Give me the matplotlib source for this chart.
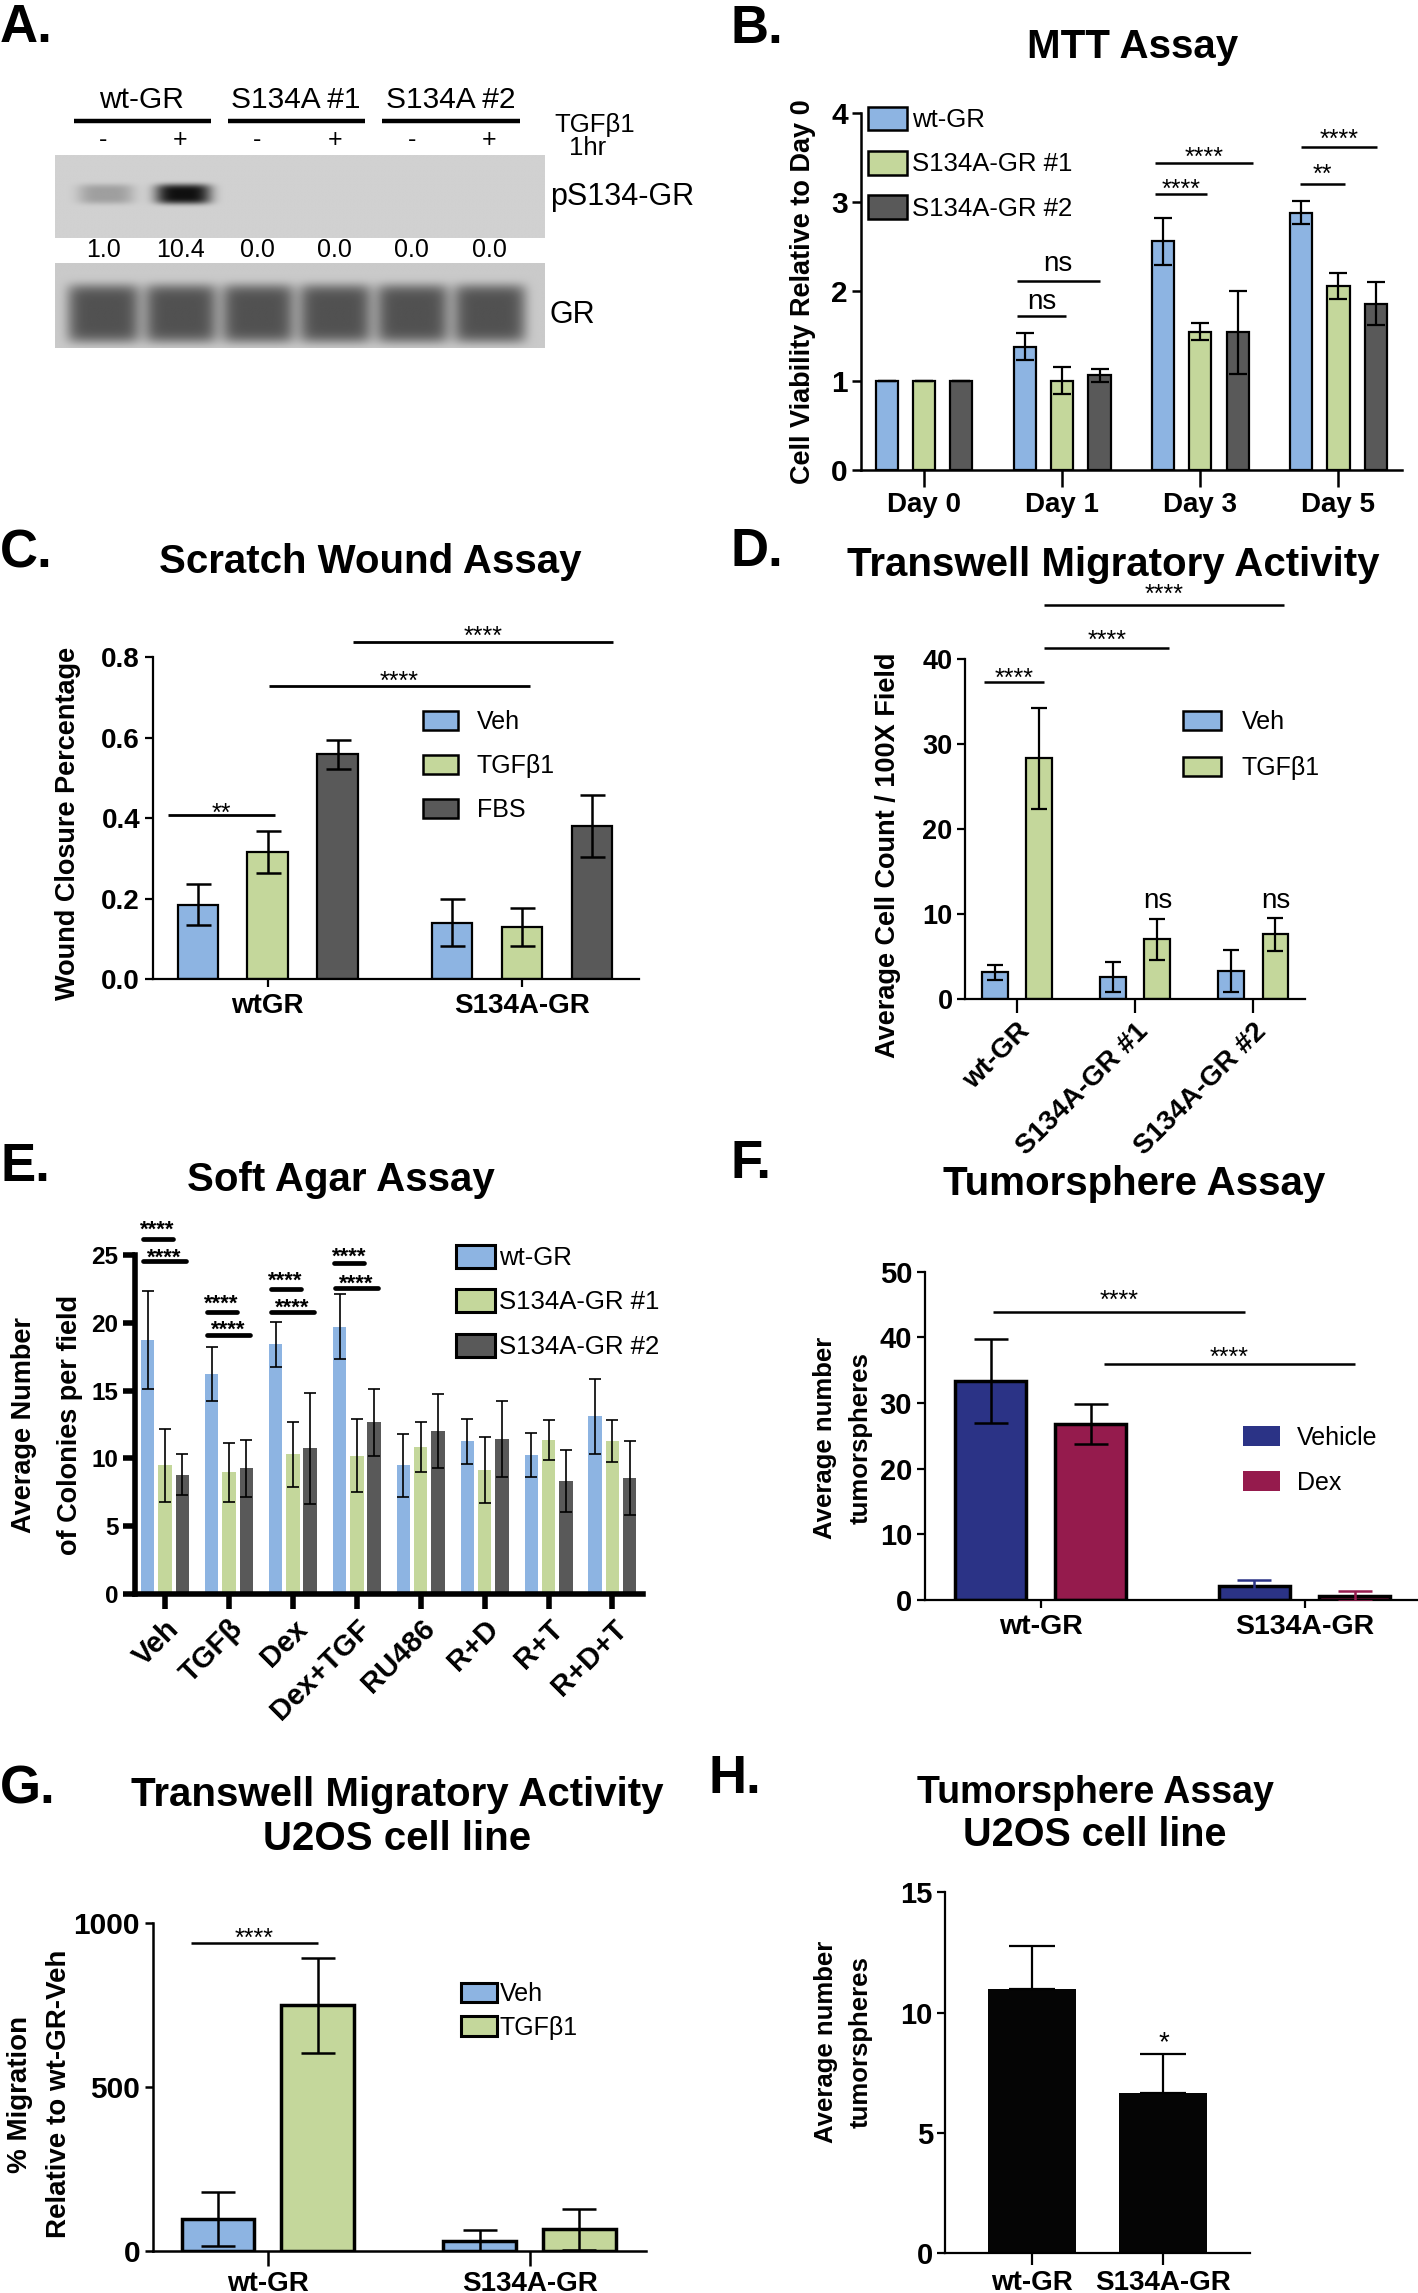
import numpy as np
import matplotlib
matplotlib.use('Agg')
import matplotlib.pyplot as plt
from matplotlib.patches import Patch
from matplotlib.transforms import blended_transform_factory

plt.rcParams['font.family'] = ['Liberation Sans', 'DejaVu Sans']

BLUE = '#8db4e2'
GREEN = '#c4d79b'
GRAY = '#595959'
NAVY = '#2b3386'
CRIMSON = '#951b4d'

# ---------------- data ----------------
# A. western blot
blot_groups = ['wt-GR', 'S134A #1', 'S134A #2']
blot_lanes = ['-', '+', '-', '+', '-', '+']
ps134_levels = [1.0, 10.4, 0.0, 0.0, 0.0, 0.0]
gr_levels = [1.0, 1.0, 1.0, 1.0, 1.0, 1.0]

# B. MTT assay
mtt_days = ['Day 0', 'Day 1', 'Day 3', 'Day 5']
mtt_series = ['wt-GR', 'S134A-GR #1', 'S134A-GR #2']
mtt_wt = [1.0, 1.38, 2.56, 2.88]
mtt_s1 = [1.0, 1.0, 1.55, 2.06]
mtt_s2 = [1.0, 1.06, 1.54, 1.86]
mtt_wt_err = [0, 0.15, 0.26, 0.13]
mtt_s1_err = [0, 0.15, 0.10, 0.15]
mtt_s2_err = [0, 0.07, 0.46, 0.24]

# C. scratch wound
wound_groups = ['wtGR', 'S134A-GR']
wound_series = ['Veh', 'TGFβ1', 'FBS']
wound_veh = [0.185, 0.14]
wound_tgf = [0.315, 0.13]
wound_fbs = [0.558, 0.38]
wound_veh_err = [0.05, 0.058]
wound_tgf_err = [0.052, 0.047]
wound_fbs_err = [0.037, 0.077]

# D. transwell
trans_groups = ['wt-GR', 'S134A-GR #1', 'S134A-GR #2']
trans_series = ['Veh', 'TGFβ1']
trans_veh = [3.1, 2.55, 3.3]
trans_tgf = [28.3, 7.0, 7.6]
trans_veh_err = [0.85, 1.8, 2.5]
trans_tgf_err = [5.9, 2.4, 1.95]

# E. soft agar
agar_groups = ['Veh', 'TGFβ', 'Dex', 'Dex+TGF', 'RU486', 'R+D', 'R+T', 'R+D+T']
agar_series = ['wt-GR', 'S134A-GR #1', 'S134A-GR #2']
agar_wt = [18.75, 16.2, 18.4, 19.7, 9.47, 11.25, 10.25, 13.1]
agar_s1 = [9.47, 8.95, 10.3, 10.2, 10.86, 9.14, 11.36, 11.25]
agar_s2 = [8.78, 9.25, 10.75, 12.65, 12.0, 11.44, 8.34, 8.56]
agar_wt_err = [3.6, 2.0, 1.65, 2.4, 2.35, 1.65, 1.6, 2.75]
agar_s1_err = [2.7, 2.2, 2.4, 2.7, 1.85, 2.45, 1.5, 1.55]
agar_s2_err = [1.5, 2.1, 4.1, 2.45, 2.75, 2.8, 2.3, 2.75]

# F. tumorsphere
sphere_groups = ['wt-GR', 'S134A-GR']
sphere_series = ['Vehicle', 'Dex']
sphere_veh = [33.4, 2.2]
sphere_dex = [26.8, 0.6]
sphere_veh_err = [6.4, 0.85]
sphere_dex_err = [3.05, 0.75]

# G. transwell U2OS
u2mig_groups = ['wt-GR', 'S134A-GR']
u2mig_series = ['Veh', 'TGFβ1']
u2mig_veh = [97, 30]
u2mig_tgf = [750, 65]
u2mig_veh_err = [82, 33]
u2mig_tgf_err = [145, 62]

# H. tumorsphere U2OS
u2sph_groups = ['wt-GR', 'S134A-GR']
u2sph = [10.99, 6.64]
u2sph_err = [1.8, 1.62]

# ---------------- layout helpers ----------------
W, H = 1418, 2293
fig = plt.figure(figsize=(W / 100, H / 100), dpi=100)


def px_axes(l, t, r, b):
    ax = fig.add_axes([l / W, 1 - b / H, (r - l) / W, (b - t) / H])
    ax.patch.set_visible(False)
    return ax


def ptext(x, y, s, **kw):
    return fig.text(x / W, 1 - y / H, s, **kw)


def setup(ax, xlim, ylim, yticks, ylabels, xlabels, lw, fs_y, fs_x, xlen, ylen, rot=0):
    for s in ['top', 'right']:
        ax.spines[s].set_visible(False)
    for s in ['left', 'bottom']:
        ax.spines[s].set_linewidth(lw)
    ax.set_xlim(*xlim)
    ax.set_ylim(*ylim)
    ax.set_yticks(yticks)
    ax.set_yticklabels(ylabels, fontsize=fs_y, fontweight='bold')
    ax.set_xticks(range(len(xlabels)))
    if rot:
        ax.set_xticklabels(xlabels, fontsize=fs_x, fontweight='bold', rotation=rot,
                           ha='right', va='top', rotation_mode='anchor')
    else:
        ax.set_xticklabels(xlabels, fontsize=fs_x, fontweight='bold')
    ax.tick_params(axis='x', length=xlen, width=lw, pad=4)
    ax.tick_params(axis='y', length=ylen, width=lw, pad=3)


def bars(ax, xs, vals, errs, width, color, edge_lw, cap, elw, ecolor='black', upper=False):
    if edge_lw > 0:
        ax.bar(xs, vals, width, color=color, edgecolor='black', linewidth=edge_lw, zorder=2)
    else:
        ax.bar(xs, vals, width, color=color, linewidth=0, zorder=2)
    errs = np.asarray(errs, dtype=float)
    yerr = [np.zeros_like(errs), errs] if upper else errs
    ax.errorbar(xs, vals, yerr=yerr, fmt='none', ecolor=ecolor, elinewidth=elw,
                capsize=cap, capthick=elw, zorder=3)


def bracket(ax, x1, x2, y, ty, label, lw=1.8, fs=18, weight='normal', rise=0.57, cap='butt'):
    ax.plot([x1, x2], [y, y], color='black', lw=lw, clip_on=False, solid_capstyle=cap, zorder=4)
    ax.annotate(label, ((x1 + x2) / 2, ty), xytext=(0, -rise * fs), textcoords='offset points',
                ha='center', va='baseline', fontsize=fs, fontweight=weight, annotation_clip=False)


def legend(ax, labels, colors, anchor, fs, hl, hh, ls, tp, edge_lw=1.8):
    if edge_lw > 0:
        hs = [Patch(facecolor=c, edgecolor='black', linewidth=edge_lw) for c in colors]
    else:
        hs = [Patch(facecolor=c, edgecolor='none') for c in colors]
    ax.legend(hs, labels, loc='upper left', bbox_to_anchor=anchor, frameon=False, fontsize=fs,
              handlelength=hl, handleheight=hh, labelspacing=ls, handletextpad=tp,
              borderpad=0, borderaxespad=0)


def letter(x, y, s):
    ptext(x, y, s, fontsize=38, fontweight='bold', ha='left', va='baseline')


def title(x, y, s, fs=29):
    ptext(x, y, s, fontsize=fs, fontweight='bold', ha='center', va='baseline')


def ylab(x, y, s, fs=19.5):
    ptext(x, y, s, fontsize=fs, fontweight='bold', rotation=90, ha='center', va='center')


# ---------------- A. western blot ----------------
letter(0, 42, 'A.')
xlimA = (-0.626, 5.71)
lane_x = np.arange(len(blot_lanes))
axAt = px_axes(54.7, 155, 543.8, 238)
axAb = px_axes(54.7, 262.7, 543.8, 348.3)
gx = np.linspace(xlimA[0], xlimA[1], 700)
gy = np.linspace(0, 1, 160)
GX, GY = np.meshgrid(gx, gy)
top_img = np.full(GX.shape, 0.82)
for k, lvl in zip(lane_x, ps134_levels):
    amp = 0.8 * (1 - np.exp(-lvl / 3.5))
    top_img -= amp * np.exp(-((GX - k - 0.03) / 0.36) ** 4) * np.exp(-((GY - 0.47) / 0.12) ** 4)
bot_img = np.full(GX.shape, 0.79)
for k, lvl in zip(lane_x, gr_levels):
    bot_img -= 0.47 * lvl * np.exp(-((GX - k) / 0.47) ** 6) * np.exp(-((GY - 0.6) / 0.34) ** 6)
for ax, img in ((axAt, top_img), (axAb, bot_img)):
    ax.imshow(img, cmap='gray', vmin=0, vmax=1, extent=(xlimA[0], xlimA[1], 0, 1),
              aspect='auto', origin='upper', interpolation='bilinear')
    ax.set_xlim(*xlimA)
    ax.set_ylim(0, 1)
    ax.axis('off')

trA = blended_transform_factory(axAt.transData, axAt.transAxes)
trB = blended_transform_factory(axAb.transData, axAb.transAxes)
for g, name in enumerate(blot_groups):
    l0, l1 = 2 * g, 2 * g + 1
    axAt.text((l0 + l1) / 2, 1.566, name, transform=trA, fontsize=21.5, ha='center', va='baseline')
    axAt.plot([l0 - 0.38, l1 + 0.4], [1.413, 1.413], transform=trA, color='black', lw=3.2,
              clip_on=False, solid_capstyle='butt')
for k, sign in zip(lane_x, blot_lanes):
    axAt.text(k, 1.1, sign, transform=trA, fontsize=18, ha='center', va='baseline')
for k, lvl in zip(lane_x, ps134_levels):
    axAt.text(k, -0.225, f'{lvl:.1f}', transform=trA, fontsize=18, ha='center', va='baseline')
axAt.text(6.37, 1.28, 'TGFβ1', transform=trA, fontsize=18.5, ha='center', va='baseline')
axAt.text(6.28, 1.0, '1hr', transform=trA, fontsize=18.5, ha='center', va='baseline')
axAt.text(5.79, 0.4, 'pS134-GR', transform=trA, fontsize=22, ha='left', va='baseline')
axAb.text(5.79, 0.292, 'GR', transform=trB, fontsize=22, ha='left', va='baseline')

# ---------------- B. MTT ----------------
letter(730, 43, 'B.')
title(1133, 58, 'MTT Assay')
ylab(803, 292, 'Cell Viability Relative to Day 0')
axB = px_axes(861, 112.7, 1402, 470)
xB = np.arange(len(mtt_days))
for off, v, e, c in ((-0.27, mtt_wt, mtt_wt_err, BLUE), (0, mtt_s1, mtt_s1_err, GREEN),
                     (0.27, mtt_s2, mtt_s2_err, GRAY)):
    bars(axB, xB + off, v, e, 0.16, c, 1.6, 6.5, 1.6)
setup(axB, (-0.457, 3.46), (0, 4), [0, 1, 2, 3, 4], ['0', '1', '2', '3', '4'], mtt_days,
      1.8, 21.5, 20, 12, 6.5)
bracket(axB, 0.67, 1.03, 1.72, 1.884, 'ns', fs=20, rise=0.26)
bracket(axB, 0.67, 1.27, 2.12, 2.313, 'ns', fs=20, rise=0.26)
bracket(axB, 1.67, 2.05, 3.09, 3.22, '****')
bracket(axB, 1.67, 2.38, 3.44, 3.58, '****')
bracket(axB, 2.72, 3.05, 3.20, 3.38, '**')
bracket(axB, 2.73, 3.28, 3.62, 3.78, '****')
legend(axB, mtt_series, [BLUE, GREEN, GRAY], (0.013, 1.017), 18.5, 1.5, 1.05, 0.72, 0.2)

# ---------------- C. scratch wound ----------------
letter(0, 567, 'C.')
title(370, 573, 'Scratch Wound Assay')
ylab(68, 823, 'Wound Closure Percentage')
axC = px_axes(152.6, 657, 639, 979)
xC = np.arange(len(wound_groups))
for off, v, e, c in ((-0.275, wound_veh, wound_veh_err, BLUE), (0, wound_tgf, wound_tgf_err, GREEN),
                     (0.275, wound_fbs, wound_fbs_err, GRAY)):
    bars(axC, xC + off, v, e, 0.16, c, 1.6, 9, 1.8)
setup(axC, (-0.453, 1.46), (0, 0.8), [0, 0.2, 0.4, 0.6, 0.8], ['0.0', '0.2', '0.4', '0.6', '0.8'],
      wound_groups, 1.6, 20, 20, 6, 6)
bracket(axC, -0.394, 0.028, 0.407, 0.428, '**', lw=2)
bracket(axC, 0.004, 1.03, 0.727, 0.757, '****', lw=2)
bracket(axC, 0.335, 1.356, 0.837, 0.868, '****', lw=2)
legend(axC, wound_series, [BLUE, GREEN, GRAY], (0.555, 0.835), 18, 1.4, 0.8, 0.8, 0.77)

# ---------------- D. transwell ----------------
letter(730, 566, 'D.')
title(1113, 576, 'Transwell Migratory Activity')
ylab(888, 855, 'Average Cell Count / 100X Field')
axD = px_axes(965, 659, 1305, 998.8)
xD = np.arange(len(trans_groups))
for off, v, e, c in ((-0.19, trans_veh, trans_veh_err, BLUE), (0.19, trans_tgf, trans_tgf_err, GREEN)):
    bars(axD, xD + off, v, e, 0.22, c, 1.6, 6, 1.6)
setup(axD, (-0.44, 2.44), (0, 40), [0, 10, 20, 30, 40], ['0', '10', '20', '30', '40'],
      trans_groups, 1.6, 19.5, 20, 10, 6, rot=45)
bracket(axD, -0.28, 0.23, 37.3, 38.5, '****')
bracket(axD, 0.23, 1.29, 41.3, 43.0, '****')
bracket(axD, 0.23, 2.26, 46.4, 48.4, '****')
for gi in (1, 2):
    axD.annotate('ns', (gi + 0.19, 11.5), xytext=(0, -0.26 * 20), textcoords='offset points',
                 ha='center', va='baseline', fontsize=20, annotation_clip=False)
legend(axD, trans_series, [BLUE, GREEN], (0.64, 0.849), 18, 1.52, 0.82, 0.88, 0.84)

# ---------------- E. soft agar ----------------
letter(0, 1181, 'E.')
title(341, 1190.6, 'Soft Agar Assay')
ylab(24.5, 1425, 'Average Number')
ylab(69.6, 1425, 'of Colonies per field')
axE = px_axes(135, 1255.1, 642.5, 1593.7)
xE = np.arange(len(agar_groups))
for off, v, e, c in ((-0.27, agar_wt, agar_wt_err, BLUE), (0, agar_s1, agar_s1_err, GREEN),
                     (0.27, agar_s2, agar_s2_err, GRAY)):
    bars(axE, xE + off, v, e, 0.21, c, 0, 4, 1.2)
setup(axE, (-0.47, 7.47), (0, 25), [0, 5, 10, 15, 20, 25], ['0', '5', '10', '15', '20', '25'],
      agar_groups, 4, 17.5, 21, 11, 9, rot=45)
agar_sig = [(0, 26.2, 27.4, 24.6, 25.3), (1, 20.8, 21.9, 19.1, 20.0),
            (2, 22.5, 23.6, 20.8, 21.6), (3, 24.4, 25.4, 22.6, 23.4)]
for g, y1, t1, y2, t2 in agar_sig:
    bracket(axE, g - 0.35, g + 0.12, y1, t1, '****', lw=3.4, fs=16, weight='bold', cap='round')
    bracket(axE, g - 0.34, g + 0.33, y2, t2, '****', lw=3.4, fs=16, weight='bold', cap='round')
legend(axE, agar_series, [BLUE, GREEN, GRAY], (0.633, 1.031), 18.5, 1.5, 1.0, 0.75, 0.18, edge_lw=2.2)

# ---------------- F. tumorsphere ----------------
letter(730, 1178, 'F.')
title(1134, 1195, 'Tumorsphere Assay')
ylab(825, 1438, 'Average number', 18.5)
ylab(861, 1438, 'tumorspheres', 18.5)
axF = px_axes(924.6, 1271.7, 1418, 1600)
xF = np.arange(len(sphere_groups))
for off, v, e, c in ((-0.19, sphere_veh, sphere_veh_err, NAVY), (0.19, sphere_dex, sphere_dex_err, CRIMSON)):
    axF.bar(xF + off, v, 0.27, color=c, edgecolor='black', linewidth=2.5, zorder=2)
    for i in range(len(v)):
        axF.errorbar(xF[i] + off, v[i], yerr=e[i], fmt='none', ecolor='black' if i == 0 else c,
                     elinewidth=1.8, capsize=12, capthick=1.8, zorder=3)
setup(axF, (-0.44, 1.43), (0, 50), [0, 10, 20, 30, 40, 50], ['0', '10', '20', '30', '40', '50'],
      sphere_groups, 1.6, 21, 20.5, 6, 6)
bracket(axF, -0.18, 0.774, 43.9, 46.7, '****')
bracket(axF, 0.24, 1.19, 36.0, 38.0, '****')
legend(axF, sphere_series, [NAVY, CRIMSON], (0.645, 0.531), 18, 1.5, 0.8, 0.84, 0.68, edge_lw=0)

# ---------------- G. transwell U2OS ----------------
letter(0, 1804, 'G.')
title(397, 1805.6, 'Transwell Migratory Activity')
title(397, 1849.9, 'U2OS cell line')
ylab(20, 2094, '% Migration', 20)
ylab(58.6, 2094, 'Relative to wt-GR-Veh', 20)
axG = px_axes(152.6, 1923.3, 646, 2250.5)
xG = np.arange(len(u2mig_groups))
for off, v, e, c in ((-0.19, u2mig_veh, u2mig_veh_err, BLUE), (0.19, u2mig_tgf, u2mig_tgf_err, GREEN)):
    bars(axG, xG + off, v, e, 0.278, c, 2.5, 12, 1.8)
setup(axG, (-0.44, 1.445), (0, 1000), [0, 500, 1000], ['0', '500', '1000'],
      u2mig_groups, 1.8, 21.5, 20, 11, 6)
bracket(axG, -0.295, 0.19, 940, 975, '****')
legend(axG, u2mig_series, [BLUE, GREEN], (0.625, 0.82), 18, 1.44, 0.84, 0.39, 0.1, edge_lw=2.2)

# ---------------- H. tumorsphere U2OS ----------------
letter(709, 1793, 'H.')
title(1095, 1803, 'Tumorsphere Assay', 27)
title(1095, 1846.3, 'U2OS cell line', 28.5)
ylab(825.5, 2042, 'Average number', 18.5)
ylab(861, 2042, 'tumorspheres', 18.5)
axH = px_axes(945.3, 1892.4, 1250, 2253)
xH = np.arange(len(u2sph_groups))
bars(axH, xH, u2sph, u2sph_err, 0.67, '#050505', 0, 16.5, 1.6, upper=True)
setup(axH, (-0.663, 1.66), (0, 15), [0, 5, 10, 15], ['0', '5', '10', '15'],
      u2sph_groups, 1.6, 21, 20, 8.5, 6)
axH.annotate('*', (1, 9.1), xytext=(0, -0.57 * 20), textcoords='offset points',
             ha='center', va='baseline', fontsize=20, annotation_clip=False)

fig.savefig('out.png', dpi=100, facecolor='white')
